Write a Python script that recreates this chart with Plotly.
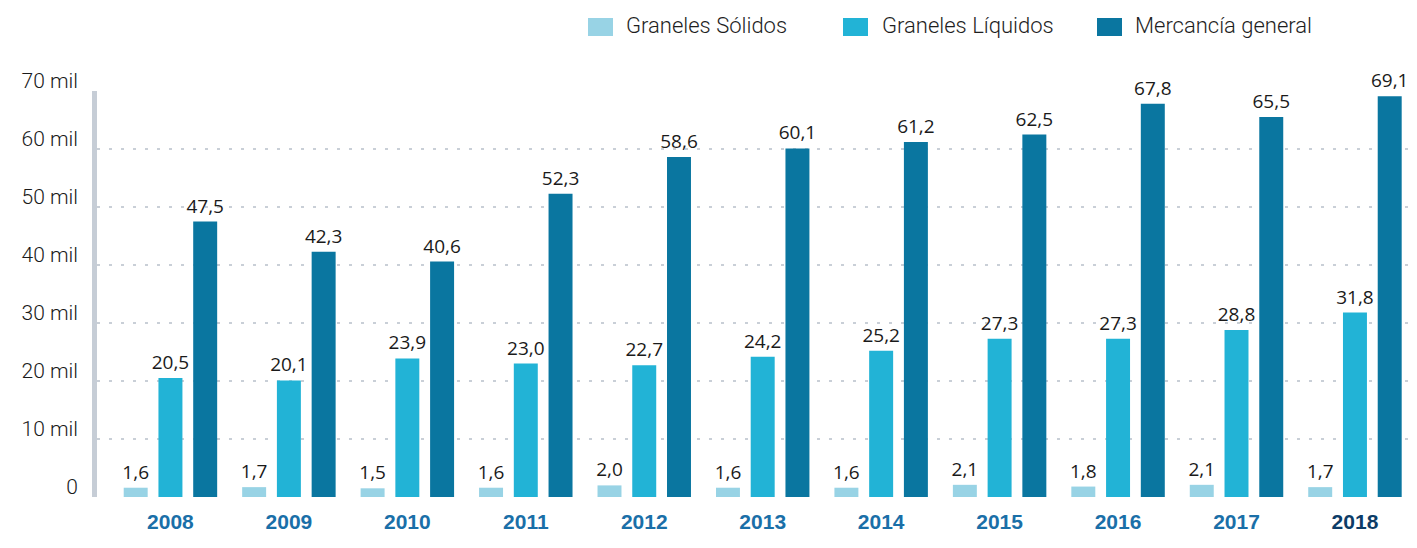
import plotly.graph_objects as go

# data (miles de toneladas)
years = ["2008", "2009", "2010", "2011", "2012", "2013", "2014", "2015", "2016", "2017", "2018"]
solidos = [1.6, 1.7, 1.5, 1.6, 2.0, 1.6, 1.6, 2.1, 1.8, 2.1, 1.7]
liquidos = [20.5, 20.1, 23.9, 23.0, 22.7, 24.2, 25.2, 27.3, 27.3, 28.8, 31.8]
mercancia = [47.5, 42.3, 40.6, 52.3, 58.6, 60.1, 61.2, 62.5, 67.8, 65.5, 69.1]
series_names = ["Graneles Sólidos", "Graneles Líquidos", "Mercancía general"]
y_ticks = [0, 10, 20, 30, 40, 50, 60, 70]
y_ticktext = ["0"] + [f"{v} mil" for v in y_ticks[1:]]

COLORS = ["#98d3e5", "#22b3d6", "#0a76a0"]

# page body has an 8px margin; plot area wanted at x 97..1413, y 91..497 in the window
OFF = 8
W, H = 1417, 548
L, R, T, B = 97 - OFF, 12, 91 - OFF, 59
PW, PH = W - L - R, H - T - B


def px(x):
    return (x - OFF - L) / PW


def py(y):
    return (H - B - (y - OFF)) / PH


def fmt(v):
    return f"{v:.1f}".replace(".", ",")


fig = go.Figure()
for name, vals, color in zip(series_names, [solidos, liquidos, mercancia], COLORS):
    fig.add_trace(go.Bar(
        x=years, y=vals, name=name,
        marker=dict(color=color, line=dict(width=0)),
        text=[fmt(v) for v in vals],
        textposition="outside",
        constraintext="none",
        textfont=dict(family="Open Sans", size=19, color="#1a1a1a"),
        cliponaxis=False,
        showlegend=False,
    ))

x_ticktext = years[:-1] + ["<span style='color:#0d3c67'>2018</span>"]

fig.update_layout(
    width=W, height=H,
    margin=dict(l=L, r=R, t=T, b=B, autoexpand=False),
    barmode="group",
    bargap=0.12,
    bargroupgap=0.31,
    plot_bgcolor="white",
    paper_bgcolor="white",
    xaxis=dict(
        range=[-0.62, 10.49],
        automargin=False,
        showgrid=False, zeroline=False, showline=False, ticks="",
        tickvals=years, ticktext=x_ticktext,
        tickfont=dict(family="Liberation Sans Narrow, Liberation Sans", size=21,
                      color="#1a6fa8", weight="bold"),
        ticklabelstandoff=10,
    ),
    yaxis=dict(
        range=[0, 70],
        automargin=False,
        tickvals=y_ticks, ticktext=y_ticktext,
        tickfont=dict(family="Roboto", size=21, color="#1a1a1a", weight=300),
        showgrid=True, gridcolor="#c9cfd7", gridwidth=2, griddash="3px,9px",
        zeroline=False, showline=False, ticks="",
        ticklabelstandoff=18,
        ticklabelshift=-10,
    ),
)

# left grey axis bar
fig.add_shape(type="line", xref="paper", yref="paper",
              x0=px(94.5), x1=px(94.5), y0=0, y1=1,
              line=dict(color="#c6cdd6", width=5))

# legend drawn by hand (square swatches)
legend_pos = [(588, 624), (843, 880), (1097, 1133)]
for (sx, tx), name, color in zip(legend_pos, series_names, COLORS):
    fig.add_shape(type="rect", xref="paper", yref="paper",
                  x0=px(sx), x1=px(sx + 25), y0=py(36), y1=py(18),
                  fillcolor=color, line=dict(width=0))
    fig.add_annotation(xref="paper", yref="paper", x=px(tx), y=py(25),
                       xanchor="left", yanchor="middle", showarrow=False,
                       text=name,
                       font=dict(family="Roboto", size=22, color="#1e1e1e", weight=300))

# small mark at bottom right
fig.add_shape(type="line", xref="paper", yref="paper", layer="above",
              x0=px(1411), x1=px(1411), y0=py(527), y1=py(543),
              line=dict(color="#0d3c67", width=2))

fig.write_html("out.html")
